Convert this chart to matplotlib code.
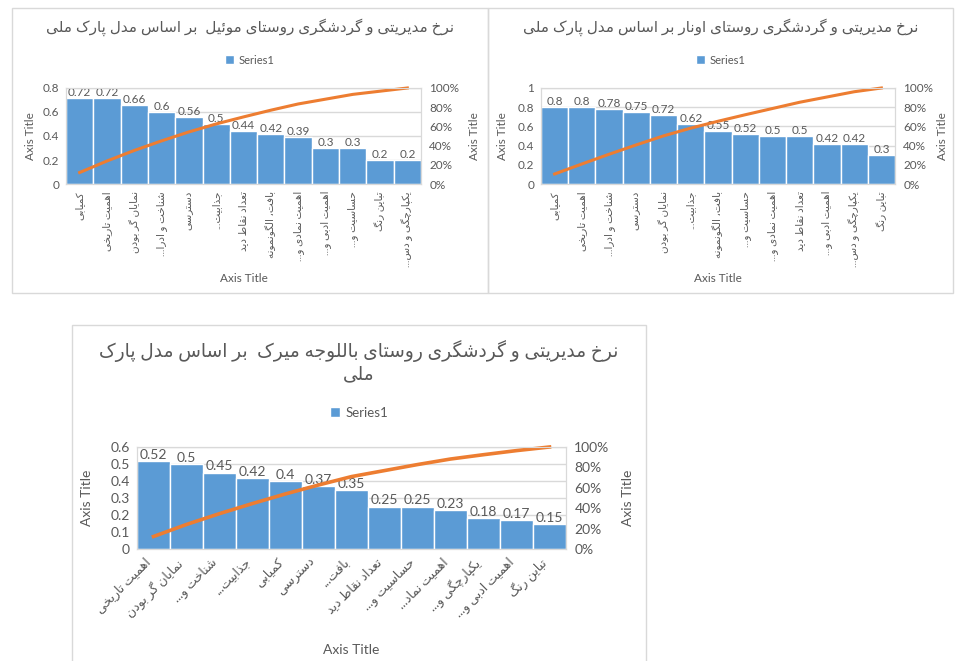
import numpy as np
import matplotlib
matplotlib.use("Agg")
import matplotlib.pyplot as plt
from matplotlib.patches import Rectangle
from matplotlib.ticker import FuncFormatter, PercentFormatter

plt.rcParams["font.family"] = ["Lato", "DejaVu Sans"]

# داده‌ها
title_1 = "نرخ مدیریتی و گردشگری روستای موئیل  بر اساس مدل پارک ملی"
labels_1 = ["کمیابی", "اهمیت تاریخی", "نمایان گر بودن", "شناخت و ادرا...", "دسترسی",
            "جذابیت...", "تعداد نقاط دید", "بافت، الگونمونه", "اهمیت نمادی و...",
            "اهمیت ادبی و...", "حساسیت و...", "تباین رنگ", "یکپارچگی و دس..."]
values_1 = [0.72, 0.72, 0.66, 0.6, 0.56, 0.5, 0.44, 0.42, 0.39, 0.3, 0.3, 0.2, 0.2]

title_2 = "نرخ مدیریتی و گردشگری روستای اونار بر اساس مدل پارک ملی"
labels_2 = ["کمیابی", "اهمیت تاریخی", "شناخت و ادرا...", "دسترسی", "نمایان گر بودن",
            "جذابیت...", "بافت، الگونمونه", "حساسیت و...", "اهمیت نمادی و...",
            "تعداد نقاط دید", "اهمیت ادبی و...", "یکپارچگی و دس...", "تباین رنگ"]
values_2 = [0.8, 0.8, 0.78, 0.75, 0.72, 0.62, 0.55, 0.52, 0.5, 0.5, 0.42, 0.42, 0.3]

title_3 = ["نرخ مدیریتی و گردشگری روستای باللوجه میرک  بر اساس مدل پارک", "ملی"]
labels_3 = ["اهمیت تاریخی", "نمایان گر بودن", "شناخت و...", "جذابیت...", "کمیابی",
            "دسترسی", "بافت...", "تعداد نقاط دید", "حساسیت و...", "اهمیت نماد...",
            "یکپارچگی و...", "اهمیت ادبی و...", "تباین رنگ"]
values_3 = [0.52, 0.5, 0.45, 0.42, 0.4, 0.37, 0.35, 0.25, 0.25, 0.23, 0.18, 0.17, 0.15]

series_name = "Series1"
axis_title = "Axis Title"

# matplotlib حروف فارسی را به هم نمی‌چسباند، پس شکل‌های نمایشی را خودمان می‌سازیم
DUAL = {0x0628: 0xFE8F, 0x067E: 0xFB56, 0x062A: 0xFE95, 0x062B: 0xFE99, 0x062C: 0xFE9D,
        0x0686: 0xFB7A, 0x062D: 0xFEA1, 0x062E: 0xFEA5, 0x0633: 0xFEB1, 0x0634: 0xFEB5,
        0x0635: 0xFEB9, 0x0636: 0xFEBD, 0x0637: 0xFEC1, 0x0638: 0xFEC5, 0x0639: 0xFEC9,
        0x063A: 0xFECD, 0x0641: 0xFED1, 0x0642: 0xFED5, 0x06A9: 0xFB8E, 0x06AF: 0xFB92,
        0x0644: 0xFEDD, 0x0645: 0xFEE1, 0x0646: 0xFEE5, 0x0647: 0xFEE9, 0x06CC: 0xFBFC,
        0x0626: 0xFE89}
RIGHT = {0x0627: 0xFE8D, 0x0622: 0xFE81, 0x062F: 0xFEA9, 0x0630: 0xFEAB, 0x0631: 0xFEAD,
         0x0632: 0xFEAF, 0x0698: 0xFB8A, 0x0648: 0xFEED}


def shape(text):
    cs = [ord(c) for c in text]
    out = []
    for i, c in enumerate(cs):
        if c not in DUAL and c not in RIGHT:
            out.append(chr(c))
            continue
        prev = cs[i - 1] if i > 0 else None
        nxt = cs[i + 1] if i + 1 < len(cs) else None
        join_prev = prev in DUAL
        join_next = c in DUAL and (nxt in DUAL or nxt in RIGHT)
        base = DUAL.get(c, RIGHT.get(c))
        if join_prev and join_next:
            out.append(chr(base + 3))
        elif join_next:
            out.append(chr(base + 2))
        elif join_prev:
            out.append(chr(base + 1))
        else:
            out.append(chr(base))
    return "".join(reversed(out))


W, H = 955, 661
GRAY = "#595959"
LIGHT = "#D9D9D9"
BLUE = "#5B9BD5"
ORANGE = "#ED7D31"

fig = plt.figure(figsize=(W / 100, H / 100), dpi=100)


def fx(x):
    return x / W


def fy(y):
    return 1 - y / H


def chart(values, labels, title, frame, area, ymax, ystep, fs, catfs, rot,
          title_y, title_fs, legend_y, ylab_x, xlab_y, lw):
    x0, y0, x1, y1 = frame
    fig.add_artist(Rectangle((fx(x0), fy(y1)), (x1 - x0) / W, (y1 - y0) / H,
                             transform=fig.transFigure, fill=False, ec=LIGHT, lw=1))
    a0, b0, a1, b1 = area
    ax = fig.add_axes([fx(a0), fy(b1), (a1 - a0) / W, (b1 - b0) / H])
    idx = np.arange(len(values))
    bars = ax.bar(idx, values, width=1.0, color=BLUE, edgecolor="white", linewidth=1, zorder=2)
    for i, v in zip(idx, values):
        ax.annotate(f"{v:g}", (i, v), xytext=(0, 0), textcoords="offset points",
                    ha="center", va="bottom", fontsize=fs, color=GRAY, zorder=5)
    ax.set_xlim(-0.5, len(values) - 0.5)
    ax.set_ylim(0, ymax)
    ax.set_yticks(np.arange(0, ymax + ystep / 2, ystep))
    ax.yaxis.set_major_formatter(FuncFormatter(lambda v, p: f"{v:g}"))
    ax.grid(axis="y", color=LIGHT, lw=1)
    ax.set_axisbelow(True)
    ax.set_xticks(idx)
    if rot == 90:
        ax.set_xticklabels([shape(s) for s in labels], rotation=90, ha="center", va="top",
                           fontsize=catfs)
    else:
        ax.set_xticklabels([shape(s) for s in labels], rotation=45, ha="right", va="top",
                           fontsize=catfs)
    ax.tick_params(axis="y", labelsize=fs)
    ax.tick_params(length=0, labelcolor=GRAY, pad=5)
    for s in ax.spines.values():
        s.set_color(LIGHT)

    # خط پارتو (درصد تجمعی)
    ax2 = ax.twinx()
    ax2.plot(idx, np.cumsum(values) / np.sum(values), color=ORANGE, lw=lw, clip_on=False)
    ax2.set_ylim(0, 1)
    ax2.set_yticks(np.arange(0, 1.01, 0.2))
    ax2.yaxis.set_major_formatter(PercentFormatter(1, decimals=0))
    ax2.tick_params(length=0, labelsize=fs, labelcolor=GRAY, pad=6)
    for s in ax2.spines.values():
        s.set_color(LIGHT)

    cx = (x0 + x1) / 2
    if isinstance(title, list):
        ttl = "\n".join(shape(t) for t in title)
    else:
        ttl = shape(title)
    fig.text(fx(cx), fy(title_y), ttl, ha="center", va="center", fontsize=title_fs,
             color=GRAY, linespacing=1.25)
    ax.legend([bars], [series_name], loc="center", bbox_to_anchor=(fx(cx), fy(legend_y)),
              bbox_transform=fig.transFigure, frameon=False, fontsize=fs - 0.5,
              handlelength=0.8, handleheight=0.8, handletextpad=0.4, labelcolor=GRAY)
    ym = (b0 + b1) / 2
    fig.text(fx(ylab_x[0]), fy(ym), axis_title, rotation=90, ha="center", va="center",
             fontsize=fs, color=GRAY)
    fig.text(fx(ylab_x[1]), fy(ym), axis_title, rotation=90, ha="center", va="center",
             fontsize=fs, color=GRAY)
    fig.text(fx((a0 + a1) / 2), fy(xlab_y), axis_title, ha="center", va="center",
             fontsize=fs, color=GRAY)


chart(values_1, labels_1, title_1, (12, 8, 488, 293), (66, 88, 421, 184), 0.8, 0.2, 8.5, 7.5, 90,
      27, 11, 60, (30, 474), 279, 2.2)
chart(values_2, labels_2, title_2, (488, 8, 953, 293), (541, 88, 895, 184), 1.0, 0.2, 8.5, 7.5, 90,
      27, 11, 60, (502, 942), 279, 2.2)
chart(values_3, labels_3, title_3, (72, 325, 646, 670), (137, 447, 566, 549), 0.6, 0.1, 10, 9, 45,
      361, 13.4, 413, (87, 628), 650, 2.6)

fig.savefig("out.png", dpi=100, facecolor="white")
